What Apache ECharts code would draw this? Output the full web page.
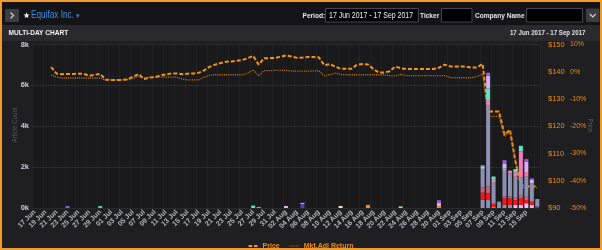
<!DOCTYPE html>
<html><head><meta charset="utf-8">
<script src="https://cdn.jsdelivr.net/npm/echarts@6/dist/echarts.min.js"></script>
<style>html,body{margin:0;padding:0;background:#1f1f22;}#c{width:602px;height:250px;}</style>
</head><body><div id="c"></div>
<script>
const FONT = '"Liberation Sans Narrow","Arial Narrow","Liberation Sans",Arial,sans-serif';

const categories = [
 '17 Jun','18 Jun','19 Jun','20 Jun','21 Jun','22 Jun','23 Jun','24 Jun','25 Jun','26 Jun','27 Jun','28 Jun','29 Jun','30 Jun',
 '01 Jul','02 Jul','03 Jul','04 Jul','05 Jul','06 Jul','07 Jul','08 Jul','09 Jul','10 Jul','11 Jul','12 Jul','13 Jul','14 Jul','15 Jul','16 Jul',
 '17 Jul','18 Jul','19 Jul','20 Jul','21 Jul','22 Jul','23 Jul','24 Jul','25 Jul','26 Jul','27 Jul','28 Jul','29 Jul','30 Jul','31 Jul',
 '01 Aug','02 Aug','03 Aug','04 Aug','05 Aug','06 Aug','07 Aug','08 Aug','09 Aug','10 Aug','11 Aug','12 Aug','13 Aug','14 Aug','15 Aug','16 Aug',
 '17 Aug','18 Aug','19 Aug','20 Aug','21 Aug','22 Aug','23 Aug','24 Aug','25 Aug','26 Aug','27 Aug','28 Aug','29 Aug','30 Aug','31 Aug',
 '01 Sep','02 Sep','03 Sep','04 Sep','05 Sep','06 Sep','07 Sep','08 Sep','09 Sep','10 Sep','11 Sep','12 Sep','13 Sep','14 Sep','15 Sep','16 Sep','17 Sep'
];

// Price ($), one per day
const price = [
 null,null,null,141.7,139.3,139.1,139.2,139.2,139.3,139.2,138.5,138.9,139.2,137.1,
 137.0,137.0,137.0,137.2,138.2,139.1,137.3,137.9,138.0,138.6,139.0,139.4,139.4,139.1,139.3,139.4,
 139.6,140.5,141.8,142.6,143.2,143.7,143.8,144.0,144.3,145.0,145.8,142.6,145.0,145.0,145.1,
 145.5,146.0,145.6,145.1,145.2,145.4,145.4,145.3,142.4,142.8,141.9,141.1,141.1,141.1,142.6,142.8,
 142.7,141.0,139.7,139.7,140.2,141.9,141.3,141.0,141.0,141.0,141.0,141.0,141.0,141.5,142.6,
 142.0,141.9,141.9,141.9,141.5,141.6,142.9,125.4,125.4,125.4,116.9,118.7,107.0,98.5,98.0,98.0,98.0
];

// Market adjusted return (%), one per day
const mktAdjReturn = [
 null,null,null,-1.1,-2.0,-2.3,-2.3,-2.3,-2.3,-2.3,-2.3,-2.3,-2.3,-3.0,
 -3.0,-3.0,-3.0,-2.9,-2.5,-1.7,-2.3,-2.0,-2.0,-2.0,-2.0,-2.0,-2.0,-2.7,-3.0,-3.0,
 -3.0,-2.0,-1.3,-1.1,-1.1,-1.1,-1.1,-1.1,-1.1,-0.5,0.7,-1.5,0.4,0.4,0.5,
 0.5,0.5,0.3,0.2,0.2,0.2,0.3,0.4,-1.5,-1.1,-0.5,-1.0,-1.1,-1.1,-1.1,-1.1,
 -1.1,-1.1,-1.1,-1.1,-1.5,-1.5,-1.0,-1.4,-1.4,-1.4,-1.4,-1.4,-1.4,-1.4,-1.4,
 -2.1,-2.2,-2.2,-2.2,-2.2,-1.7,-0.9,-16.4,-16.4,-16.4,-23.8,-22.0,-32.0,-42.5,-42.5,-42.5,-42.5
];

// Days that have articles, and the article counts by source colour (stacked bottom to top)
const barDays = ['23 Jun','29 Jun','27 Jul','28 Jul','02 Aug','05 Aug','12 Aug','17 Aug','23 Aug','30 Aug',
 '07 Sep','08 Sep','09 Sep','10 Sep','11 Sep','12 Sep','13 Sep','14 Sep','15 Sep','16 Sep','17 Sep'];
const srcOrange   = [0,0,0,0,0,0,0,150,0,100, 0,0,0,0,0,0,0,0,0,0,0];
const srcLavLow   = [0,0,0,0,0,0,0,0,0,0, 0,0,0,0,0,0,150,150,230,150,0];
const srcDarkPurp = [0,0,0,0,0,200,0,0,0,0, 0,0,0,0,0,0,0,0,0,0,70];
const srcGrayLow  = [0,0,0,0,0,0,0,0,0,0, 400,390,50,0,150,150,0,0,0,0,0];
const srcRed      = [0,0,0,0,0,0,0,0,0,0, 350,330,160,0,330,330,240,330,160,160,0];
const srcStripe   = [0,0,0,0,0,0,0,0,0,0, 250,330,0,0,80,80,110,160,160,0,0];
const srcGrayMain = [0,0,0,0,0,0,0,0,0,0, 850,3980,1060,280,1300,1140,1030,850,1010,900,370];
const srcPink     = [0,0,0,0,0,0,0,0,0,0, 50,240,110,0,0,130,210,1270,200,0,0];
const srcTeal     = [0,0,120,0,0,0,0,0,0,0, 50,580,160,30,80,0,160,280,0,0,0];
const srcLavender = [0,0,0,0,100,50,0,0,0,150, 100,620,0,0,240,0,0,0,500,160,0];
const srcPurple   = [0,0,0,0,0,0,0,0,0,130, 50,150,0,0,160,0,0,0,130,80,0];
const srcBlue     = [100,0,0,0,0,0,0,0,0,0, 0,0,0,0,0,0,0,0,0,0,0];
const srcGreen    = [0,100,0,50,0,0,0,0,0,0, 0,0,0,0,0,0,0,0,0,0,0];
const srcCream    = [0,0,0,0,0,0,100,0,0,0, 0,0,0,0,0,0,0,0,0,0,0];
const srcLime     = [0,0,0,0,0,0,0,0,80,0, 0,0,0,0,0,0,0,0,0,0,0];

const yLeftTicks = ['0k','2k','4k','6k','8k'];

const sources = [
  ['Orange', srcOrange, '#f08a26'],
  ['LavLow', srcLavLow, '#e8bdf3'],
  ['DarkPurple', srcDarkPurp, '#5c36bd'],
  ['GrayLow', srcGrayLow, '#8d8fb3'],
  ['Red', srcRed, '#ff1414'],
  ['Stripe', srcStripe, '#c5607c'],
  ['GrayMain', srcGrayMain, '#8d8fb3'],
  ['Pink', srcPink, '#f47cb2'],
  ['Teal', srcTeal, '#5fe3c5'],
  ['Lavender', srcLavender, '#d8aef5'],
  ['Purple', srcPurple, '#a05ee0'],
  ['Blue', srcBlue, '#6a6fd8'],
  ['Green', srcGreen, '#4fd19e'],
  ['Cream', srcCream, '#f1e3b3'],
  ['Lime', srcLime, '#a9df82']
];

function fullSeries(vals) {
  return categories.map(c => { const k = barDays.indexOf(c); return (k >= 0 && vals[k]) ? vals[k] : null; });
}

const barSeries = sources.map(([name, vals, color]) => ({
  name, type: 'bar', stack: 'articles', yAxisIndex: 0, barWidth: 4, z: 3,
  itemStyle: { color }, data: fullSeries(vals), silent: true
}));

const labelEvery = (i) => i % 2 === 0 && i < 92;

const chart = echarts.init(document.getElementById('c'), null, { renderer: 'canvas' });
const SX = 0.82;
const txt = (x, y, text, o, sx) => ({ type: 'text', x, y, z: 50, scaleX: sx == null ? SX : sx,
  style: Object.assign({ text, font: '8px ' + FONT, fill: '#e6e6e6', verticalAlign: 'middle' }, o || {}) });

chart.setOption({
  backgroundColor: '#1f1f22',
  animation: false,
  textStyle: { fontFamily: FONT },
  grid: { left: 32, right: 62, top: 44.5, height: 163.5, show: true, backgroundColor: '#1a1a1d', borderWidth: 0 },
  legend: {
    left: 'center', top: 237.5, itemWidth: 9, itemHeight: 2, itemGap: 10,
    data: [
      { name: 'Price', icon: 'path://M0,0H4V2H0ZM6,0H10V2H6Z' },
      { name: 'Mkt.Adj Return', icon: 'path://M0,0H1V1H0ZM2,0H3V1H2ZM4,0H5V1H4ZM6,0H7V1H6ZM8,0H9V1H8Z' }
    ],
    textStyle: { color: '#ef8a12', fontSize: 7, fontWeight: 'bold', fontFamily: FONT }
  },
  xAxis: {
    type: 'category', data: categories, boundaryGap: true,
    axisLine: { show: true, lineStyle: { color: '#2a2a2e' } },
    axisTick: { show: false },
    splitLine: { show: true, interval: (i) => i % 2 === 0, lineStyle: { color: 'rgba(255,255,255,0.035)' } },
    axisLabel: { interval: labelEvery, rotate: 45, margin: 3, color: '#b2b6c0', fontSize: 7, fontWeight: 'bold', fontFamily: FONT }
  },
  yAxis: [
    { type: 'value', min: 0, max: 8000, interval: 2000, position: 'left',
      axisLine: { show: false }, axisTick: { show: false },
      splitLine: { lineStyle: { color: '#2b2b2f' } },
      axisLabel: { margin: 3, color: '#c9cdd8', fontSize: 7.5, fontWeight: 'bold', fontFamily: FONT, formatter: (v) => yLeftTicks[v / 2000] } },
    { type: 'value', min: 90, max: 150, interval: 10, position: 'right', offset: 0,
      axisLine: { show: false }, axisTick: { show: false }, splitLine: { show: false },
      axisLabel: { margin: 8, color: '#ec8c14', fontSize: 7.5, fontFamily: FONT, formatter: (v) => '$' + v } },
    { type: 'value', min: -50, max: 10, interval: 10, position: 'right', offset: 22,
      axisLine: { show: false }, axisTick: { show: false }, splitLine: { show: false },
      axisLabel: { margin: 8, color: '#ec8c14', fontSize: 7, fontFamily: FONT, formatter: (v) => v + '%' } }
  ],
  series: [
    { name: 'Price', type: 'line', yAxisIndex: 1, data: price, symbol: 'none', z: 2,
      lineStyle: { color: '#f4921c', width: 2, type: [4, 2] }, itemStyle: { color: '#f4921c' } },
    { name: 'Mkt.Adj Return', type: 'line', yAxisIndex: 2, data: mktAdjReturn, symbol: 'none', z: 2,
      lineStyle: { color: '#c97a12', width: 1.3, type: [1, 1.2] }, itemStyle: { color: '#c97a12' } }
  ].concat(barSeries),
  graphic: [
    { type: 'rect', z: 40, shape: { x: 0, y: 0, width: 602, height: 25 }, style: { fill: '#141416' } },
    { type: 'rect', z: 40, shape: { x: 0, y: 25, width: 602, height: 16 }, style: { fill: '#2a2a2e' } },
    { type: 'rect', z: 45, shape: { x: 5, y: 9, width: 14, height: 13, r: 1 }, style: { fill: '#3c3c41' } },
    { type: 'polyline', z: 46, shape: { points: [[10.5, 12.5], [13.5, 15.5], [10.5, 18.5]] }, style: { stroke: '#d2d2d2', lineWidth: 1.2, fill: null } },
    txt(23, 15.5, '\u2605', { fill: '#ffffff', font: '8px "DejaVu Sans",sans-serif' }, 1),
    txt(31, 15.5, 'Equifax Inc.', { fill: '#3a8ee6', font: '10px ' + FONT }),
    txt(76, 16, '\u25BE', { fill: '#3a8ee6', font: '7px "DejaVu Sans",sans-serif' }, 1),
    txt(302.5, 15.5, 'Period:', { font: 'bold 8px ' + FONT }),
    { type: 'rect', z: 45, shape: { x: 325.5, y: 8.5, width: 93, height: 13.5 }, style: { fill: '#000', stroke: '#45454a', lineWidth: 1 } },
    txt(329, 15.5, '17 Jun 2017 - 17 Sep 2017', { fill: '#f0f0f0', font: '8.5px ' + FONT }),
    txt(420, 15.5, 'Ticker', { font: 'bold 8px ' + FONT }),
    { type: 'rect', z: 45, shape: { x: 441.5, y: 8.5, width: 30.5, height: 13.5 }, style: { fill: '#000', stroke: '#45454a', lineWidth: 1 } },
    txt(475, 15.5, 'Company Name', { font: 'bold 8px ' + FONT }),
    { type: 'rect', z: 45, shape: { x: 526.5, y: 8.5, width: 56, height: 13.5 }, style: { fill: '#000', stroke: '#45454a', lineWidth: 1 } },
    { type: 'rect', z: 45, shape: { x: 586, y: 8.5, width: 13.5, height: 13.5, r: 1 }, style: { fill: '#3c3c41' } },
    { type: 'polyline', z: 46, shape: { points: [[589.8, 14], [592.8, 17], [595.8, 14]] }, style: { stroke: '#d2d2d2', lineWidth: 1.2, fill: null } },
    txt(8.5, 33, 'MULTI-DAY CHART', { fill: '#f2f2f2', font: 'bold 8px ' + FONT }),
    txt(585.5, 33, '17 Jun 2017 - 17 Sep 2017', { fill: '#e2e2e2', font: 'bold 7.5px ' + FONT, align: 'right' }),
    { type: 'text', z: 50, x: 14.5, y: 125, rotation: Math.PI / 2, scaleX: SX, style: { text: 'Article Count', font: '7.5px ' + FONT, fill: '#54565c', align: 'center', verticalAlign: 'middle' } },
    { type: 'text', z: 50, x: 590, y: 125.5, rotation: -Math.PI / 2, scaleX: SX, style: { text: 'Price', font: '7.5px ' + FONT, fill: '#5e6066', align: 'center', verticalAlign: 'middle' } },
    { type: 'rect', z: 60, silent: true, shape: { x: 1, y: 1, width: 600, height: 248 }, style: { fill: null, stroke: '#f39a2b', lineWidth: 2 } }
  ]
});
</script></body></html>
